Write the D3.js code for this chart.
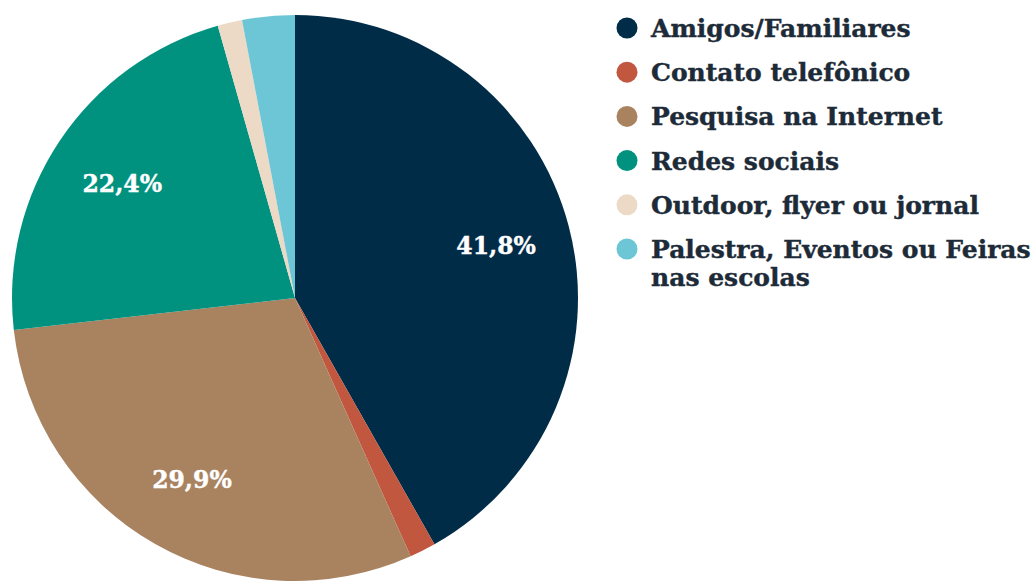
<!DOCTYPE html>
<html>
<head>
<meta charset="utf-8">
<script src="https://cdn.jsdelivr.net/npm/d3@7"></script>
<style>
  body { margin: 0; background: #fff; }
  svg { display: block; }
  text { font-family: "DejaVu Serif", Georgia, serif; font-weight: bold; }
</style>
</head>
<body>
<div id="chart"></div>
<script>
'use strict';

// data
const categories = ['Amigos/Familiares', 'Contato telefônico', 'Pesquisa na Internet',
  'Redes sociais', 'Outdoor, flyer ou jornal', 'Palestra, Eventos ou Feiras nas escolas'];
const values = [41.8, 1.5, 29.9, 22.4, 1.4, 3.0];
const colors = ['#012c47', '#c1573f', '#a9835f', '#00917f', '#ecd9c6', '#6dc6d6'];
const legendLines = [['Amigos/Familiares'], ['Contato telefônico'], ['Pesquisa na Internet'],
  ['Redes sociais'], ['Outdoor, flyer ou jornal'], ['Palestra, Eventos ou Feiras', 'nas escolas']];

const width = 1035, height = 581;
const cx = 295, cy = 298, radius = 283;

const svg = d3.select('#chart').append('svg')
  .attr('width', width)
  .attr('height', height);

const data = categories.map((c, i) => ({ name: c, value: values[i], color: colors[i] }));

const pie = d3.pie().sort(null).value(d => d.value);
const arc = d3.arc().innerRadius(0).outerRadius(radius);
const labelArc = d3.arc().innerRadius(208).outerRadius(208);

const g = svg.append('g').attr('transform', `translate(${cx},${cy})`);
const arcs = pie(data);

g.selectAll('path')
  .data(arcs)
  .enter()
  .append('path')
  .attr('d', arc)
  .attr('fill', d => d.data.color);

g.selectAll('.lbl')
  .data(arcs.filter(d => d.data.value > 5))
  .enter()
  .append('text')
  .attr('class', 'lbl')
  .attr('transform', d => `translate(${labelArc.centroid(d)})`)
  .attr('text-anchor', 'middle')
  .attr('dy', '0.4em')
  .attr('fill', '#fff')
  .attr('stroke', '#fff')
  .attr('stroke-width', 0.4)
  .style('font-size', '23.5px')
  .text(d => d.data.value.toFixed(1).replace('.', ',') + '%');

// legend
const legend = svg.append('g').attr('transform', 'translate(627,28)');
const rowStep = 44.2;
const item = legend.selectAll('.item')
  .data(legendLines)
  .enter()
  .append('g')
  .attr('class', 'item')
  .attr('transform', (d, i) => `translate(0,${i * rowStep})`);

item.append('circle')
  .attr('r', 10.5)
  .attr('fill', (d, i) => colors[i]);

item.append('text')
  .attr('x', 24)
  .attr('fill', '#1d2b38')
  .attr('stroke', '#1d2b38')
  .attr('stroke-width', 0.4)
  .style('font-size', '25px')
  .selectAll('tspan')
  .data(d => d)
  .enter()
  .append('tspan')
  .attr('x', 24)
  .attr('dy', (d, i) => i === 0 ? '0.36em' : '1.1em')
  .text(d => d);
</script>
</body>
</html>
